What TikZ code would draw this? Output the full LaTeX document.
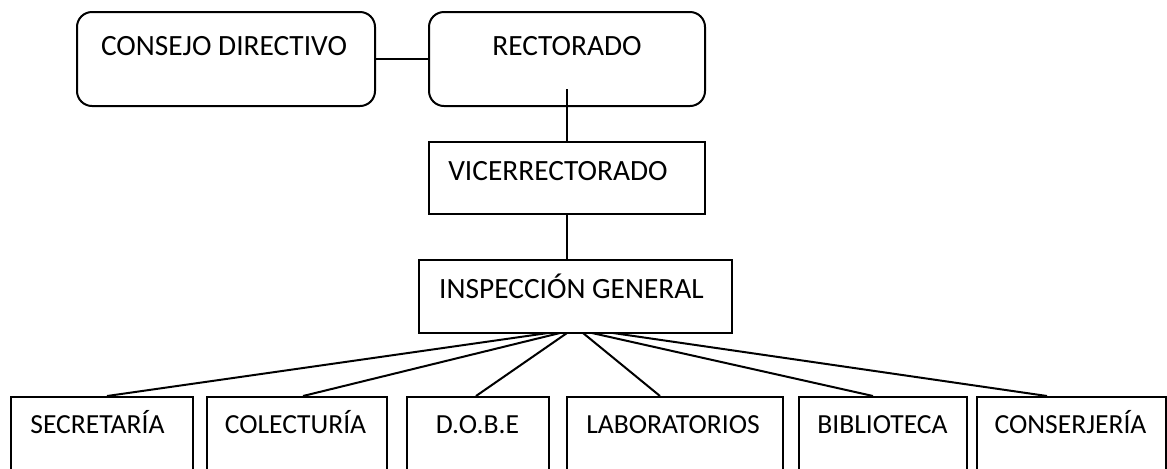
\documentclass[tikz,border=0pt]{standalone}
\usepackage{fontspec}
\setmainfont{Carlito}
\begin{document}
\begin{tikzpicture}[x=0.5pt,y=-0.5pt,
  box/.style={draw=black,line width=1pt,fill=white,inner sep=0pt},
  rbox/.style={box,rounded corners=7.5pt},
  txt/.style={anchor=base,inner sep=0pt,font=\fontsize{14.7}{16}\selectfont},
  btxt/.style={anchor=base,inner sep=0pt,font=\fontsize{13.8}{15}\selectfont},
  conn/.style={draw=black,line width=1pt}]
\useasboundingbox (0,0) rectangle (1167,468);
\clip (0,0) rectangle (1167,468);
% top
\node[rbox,minimum width=149pt,minimum height=47pt] (cd) at (226,59) {};
\node[rbox,minimum width=138pt,minimum height=47pt] (rec) at (567,59) {};
\node[box,minimum width=138pt,minimum height=36pt] (vice) at (567,178) {};
\node[box,minimum width=156.5pt,minimum height=36.5pt] (insp) at (575.5,296.5) {};
\node[txt] (tcd) at (224,55) {CONSEJO DIRECTIVO};
\node[txt] (trec) at (567,55) {RECTORADO};
\node[txt] (tvice) at (558,180) {VICERRECTORADO};
\node[txt] (tinsp) at (571.5,298) {INSPECCIÓN GENERAL};
% bottom
\node[box,minimum width=91pt,minimum height=41.5pt] (sec) at (102,438.5) {};
\node[box,minimum width=90pt,minimum height=41.5pt] (col) at (297,438.5) {};
\node[box,minimum width=71pt,minimum height=41.5pt] (dobe) at (478,438.5) {};
\node[box,minimum width=108pt,minimum height=41.5pt] (lab) at (675,438.5) {};
\node[box,minimum width=84pt,minimum height=41.5pt] (bib) at (883,438.5) {};
\node[box,minimum width=94.5pt,minimum height=41.5pt] (cons) at (1071.5,438.5) {};
\node[btxt] (tsec) at (97.5,433) {SECRETARÍA};
\node[btxt] (tcol) at (295.5,433) {COLECTURÍA};
\node[btxt] (tdobe) at (477.5,433) {D.O.B.E};
\node[btxt] (tlab) at (673,433) {LABORATORIOS};
\node[btxt] (tbib) at (882.5,433) {BIBLIOTECA};
\node[btxt] (tcons) at (1070.5,433) {CONSERJERÍA};
% connectors
\coordinate (recin) at (567,89);
\draw[conn] (cd.east) -- (rec.west);
\draw[conn] (recin) -- (vice.north);
\draw[conn] (vice.south) -- (vice.south |- insp.north);
\coordinate (f1) at (548,333);
\coordinate (f2) at (560,333);
\coordinate (f3) at (567,333);
\coordinate (f4) at (583,333);
\coordinate (f5) at (592,333);
\coordinate (f6) at (613,333);
\draw[conn] (f1) -- (sec.north -| 107,0);
\draw[conn] (f2) -- (col.north -| 303,0);
\draw[conn] (f3) -- (dobe.north -| 476,0);
\draw[conn] (f4) -- (lab.north -| 660,0);
\draw[conn] (f5) -- (bib.north -| 873,0);
\draw[conn] (f6) -- (cons.north -| 1047,0);
\end{tikzpicture}
\end{document}
